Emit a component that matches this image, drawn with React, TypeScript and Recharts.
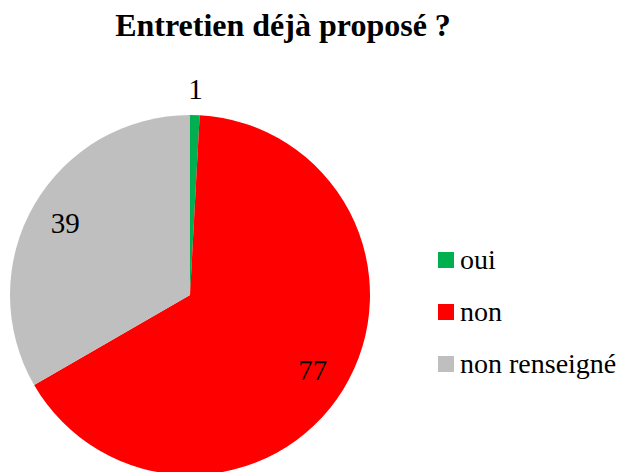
import React from 'react';
import { PieChart, Pie, Cell, Legend } from 'recharts';

const categories = ['oui', 'non', 'non renseigné'];
const counts = [1, 77, 39];
const colors = ['#00B050', '#FF0000', '#BFBFBF'];

const data = categories.map((name, i) => ({ name, value: counts[i] }));

const FONT = 'Liberation Serif, Tinos, Times New Roman, DejaVu Serif, serif';
const RADIAN = Math.PI / 180;

// small slice gets its label outside, the big ones inside
const renderLabel = (props: any) => {
   const { cx, cy, midAngle, outerRadius, index, value } = props;
   const r = index === 0 ? outerRadius + 26 : outerRadius * 0.8;
   const x = cx + r * Math.cos(-midAngle * RADIAN);
   const y = cy + r * Math.sin(-midAngle * RADIAN);
   return (
      <text
         x={x}
         y={y}
         fill="#000"
         textAnchor="middle"
         dominantBaseline="central"
         style={{ fontFamily: FONT, fontSize: 29 }}
      >
         {value}
      </text>
   );
};

const renderLegend = (props: any) => {
   // keep the legend in data order, not alphabetical
   const items = [...(props.payload || [])].sort(
      (a: any, b: any) => categories.indexOf(a.value) - categories.indexOf(b.value)
   );
   return (
      <div style={{ fontFamily: FONT, fontSize: 28, color: '#000' }}>
         {items.map((entry: any, i: number) => (
            <div key={i} style={{ display: 'flex', alignItems: 'center', height: 52 }}>
               <span style={{ width: 16, height: 16, background: entry.color, marginRight: 6, display: 'inline-block' }} />
               <span style={{ whiteSpace: 'nowrap' }}>{entry.value}</span>
            </div>
         ))}
      </div>
   );
};

const App = () => {
   return (
      <div style={{ position: 'absolute', left: 0, top: 0, width: 626, height: 472, background: '#fff', overflow: 'hidden' }}>
         <div
            style={{
               position: 'absolute',
               left: 0,
               top: 9,
               width: 566,
               textAlign: 'center',
               fontFamily: FONT,
               fontWeight: 'bold',
               fontSize: 32,
               lineHeight: '32px',
               color: '#000',
            }}
         >
            Entretien déjà proposé ?
         </div>
         <PieChart width={626} height={472} margin={{ top: 0, right: 0, bottom: 0, left: 0 }}>
            <Pie
               data={data}
               dataKey="value"
               nameKey="name"
               cx={190}
               cy={295}
               outerRadius={180}
               startAngle={90}
               endAngle={-270}
               stroke="none"
               label={renderLabel}
               labelLine={false}
               isAnimationActive={false}
            >
               {data.map((d, i) => (
                  <Cell key={d.name} fill={colors[i]} />
               ))}
            </Pie>
            <Legend
               layout="vertical"
               align="right"
               verticalAlign="top"
               content={renderLegend}
               wrapperStyle={{ left: 438, top: 234, right: 'auto', width: 'auto' }}
            />
         </PieChart>
      </div>
   );
};

export default App;
